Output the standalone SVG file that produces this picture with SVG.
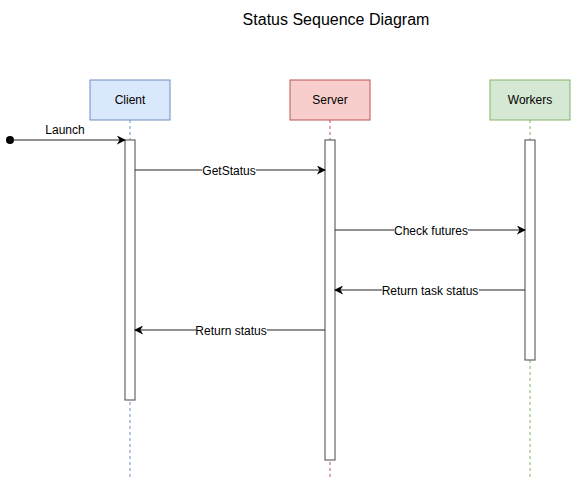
<svg xmlns="http://www.w3.org/2000/svg" width="571" height="481" viewBox="0 0 571 481">
<style>
text{font-family:"Liberation Sans",Arial,sans-serif;font-size:12px;fill:#000;text-anchor:middle}
.title{font-size:16px}
.head{stroke-width:1}
.life{stroke-dasharray:3 3;stroke-width:1;fill:none}
.act{fill:#fff;stroke:#666;stroke-width:1.2}
.msg{stroke:#222;stroke-width:1;fill:none;marker-end:url(#arr)}
.lbl{fill:#fff}
</style>
<defs>
<marker id="arr" viewBox="0 0 10 10" refX="9" refY="5" markerWidth="9" markerHeight="9" markerUnits="userSpaceOnUse" orient="auto">
<path d="M0,0 L10,5 L0,10 L3,5 Z" fill="#000"/>
</marker>
</defs>
<rect width="571" height="481" fill="#fff"/>
<text class="title" x="336" y="25">Status Sequence Diagram</text>
<g id="client">
<line class="life" x1="130" y1="120" x2="130" y2="478" stroke="#6c8ebf"/>
<rect x="90" y="80" width="80" height="40" fill="#dae8fc" stroke="#6c8ebf" class="head"/>
<text x="130" y="104">Client</text>
<rect class="act" x="125" y="140" width="10" height="260"/>
</g>
<g id="server">
<line class="life" x1="330" y1="120" x2="330" y2="478" stroke="#b85450"/>
<rect x="290" y="80" width="80" height="40" fill="#f8cecc" stroke="#b85450" class="head"/>
<text x="330" y="104">Server</text>
<rect class="act" x="325" y="140" width="10" height="320"/>
</g>
<g id="workers">
<line class="life" x1="530" y1="120" x2="530" y2="478" stroke="#82b366"/>
<rect x="490" y="80" width="80" height="40" fill="#d5e8d4" stroke="#82b366" class="head"/>
<text x="530" y="104">Workers</text>
<rect class="act" x="525" y="140" width="10" height="220"/>
</g>
<g id="connectors">
<circle cx="10" cy="140" r="4" fill="#000"/>
<line class="msg" x1="10" y1="140" x2="125" y2="140"/>
<text x="65" y="134">Launch</text>
<line class="msg" x1="135" y1="170" x2="325" y2="170"/>
<rect class="lbl" x="202" y="163" width="54" height="14"/>
<text x="229" y="175">GetStatus</text>
<line class="msg" x1="335" y1="230" x2="525" y2="230"/>
<rect class="lbl" x="394" y="223" width="74" height="14"/>
<text x="431" y="235">Check futures</text>
<line class="msg" x1="525" y1="290" x2="335" y2="290"/>
<rect class="lbl" x="382" y="283" width="97" height="14"/>
<text x="430" y="295">Return task status</text>
<line class="msg" x1="325" y1="330" x2="135" y2="330"/>
<rect class="lbl" x="196" y="323" width="71" height="14"/>
<text x="231" y="335">Return status</text>
</g>
</svg>
